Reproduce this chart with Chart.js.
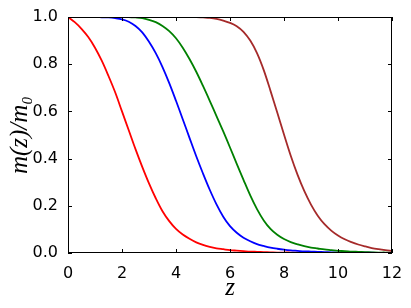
<!DOCTYPE html>
<html>
<head>
<meta charset="utf-8">
<script src="https://cdn.jsdelivr.net/npm/chart.js@4.4.1/dist/chart.umd.min.js"></script>
<style>
  html, body { margin: 0; padding: 0; background: #fff; }
</style>
</head>
<body>
<canvas id="chart" width="411" height="308"></canvas>
<script>
// z grid, values read every 0.25
const zValues = [0, 0.25, 0.5, 0.75, 1, 1.25, 1.5, 1.75, 2, 2.25, 2.5, 2.75, 3, 3.25, 3.5, 3.75, 4, 4.25, 4.5, 4.75, 5, 5.25, 5.5, 5.75, 6, 6.25, 6.5, 6.75, 7, 7.25, 7.5, 7.75, 8, 8.25, 8.5, 8.75, 9, 9.25, 9.5, 9.75, 10, 10.25, 10.5, 10.75, 11, 11.25, 11.5, 11.75, 12];

const redValues = [1, 0.978, 0.95, 0.915, 0.87, 0.815, 0.75, 0.68, 0.6, 0.52, 0.44, 0.365, 0.295, 0.232, 0.177, 0.135, 0.102, 0.078, 0.06, 0.045, 0.034, 0.026, 0.02, 0.016, 0.012, 0.01, 0.008, 0.006, 0.005, 0.004, 0.003, 0.002, 0.002, 0.002, 0.001, 0.001, 0.001, 0.001, 0, 0, 0, 0, 0, 0, 0, 0, 0, 0, 0];
const blueValues = [1, 1, 1, 1, 1, 0.999, 0.998, 0.995, 0.99, 0.98, 0.962, 0.935, 0.895, 0.847, 0.788, 0.72, 0.645, 0.567, 0.488, 0.41, 0.337, 0.268, 0.206, 0.154, 0.114, 0.086, 0.065, 0.05, 0.038, 0.03, 0.023, 0.018, 0.014, 0.011, 0.009, 0.007, 0.006, 0.005, 0.004, 0.003, 0.002, 0.002, 0.001, 0.001, 0.001, 0.001, 0, 0, 0];
const greenValues = [1, 1, 1, 1, 1, 1, 1, 1, 1, 1, 0.998, 0.995, 0.988, 0.978, 0.962, 0.94, 0.91, 0.87, 0.822, 0.768, 0.708, 0.645, 0.58, 0.515, 0.447, 0.378, 0.31, 0.244, 0.186, 0.138, 0.102, 0.077, 0.059, 0.046, 0.037, 0.029, 0.023, 0.019, 0.015, 0.012, 0.009, 0.008, 0.006, 0.005, 0.004, 0.003, 0.002, 0.002, 0.001];
const brownValues = [1, 1, 1, 1, 1, 1, 1, 1, 1, 1, 1, 1, 1, 1, 1, 1, 1, 1, 1, 1, 0.998, 0.996, 0.992, 0.985, 0.975, 0.961, 0.937, 0.9, 0.847, 0.775, 0.687, 0.595, 0.502, 0.412, 0.332, 0.263, 0.205, 0.158, 0.122, 0.095, 0.074, 0.058, 0.046, 0.036, 0.028, 0.021, 0.016, 0.012, 0.009];

const xTicks = [0, 2, 4, 6, 8, 10, 12];
const yTicks = [0, 0.2, 0.4, 0.6, 0.8, 1.0];

const series = [
  { values: redValues, color: "#ff0000" },
  { values: blueValues, color: "#0000ff" },
  { values: greenValues, color: "#008000" },
  { values: brownValues, color: "#a52a2a" },
];

// frame + inward ticks on all four sides, matplotlib style
const frameTicks = {
  id: "frameTicks",
  afterDatasetsDraw(chart) {
    const { ctx, chartArea: a, scales: { x, y } } = chart;
    const len = 4;
    ctx.save();
    ctx.strokeStyle = "#000";
    ctx.lineWidth = 1;
    ctx.strokeRect(a.left + 0.5, a.top + 0.5, a.right - a.left - 1, a.bottom - a.top - 1);
    ctx.beginPath();
    xTicks.forEach((t) => {
      const px = Math.round(x.getPixelForValue(t)) + 0.5;
      ctx.moveTo(px, a.bottom);
      ctx.lineTo(px, a.bottom - len);
      ctx.moveTo(px, a.top);
      ctx.lineTo(px, a.top + len);
    });
    yTicks.forEach((t) => {
      const py = Math.round(y.getPixelForValue(t)) + 0.5;
      ctx.moveTo(a.left, py);
      ctx.lineTo(a.left + len, py);
      ctx.moveTo(a.right, py);
      ctx.lineTo(a.right - len, py);
    });
    ctx.stroke();
    ctx.restore();
  },
};

const tickFont = { family: "DejaVu Sans", size: 16 };
const titleFont = { family: "Liberation Serif", style: "italic", size: 25 };

new Chart(document.getElementById("chart"), {
  type: "line",
  data: {
    labels: zValues,
    datasets: series.map((s, i) => ({
      data: zValues.map((z, j) => ({ x: z, y: s.values[j] })),
      borderColor: s.color,
      borderWidth: 1.8,
      pointRadius: 0,
      fill: false,
      tension: 0.35,
      order: series.length - i,
    })),
  },
  options: {
    responsive: false,
    animation: false,
    layout: { padding: { left: 0, top: 17, right: 19, bottom: 0 } },
    plugins: { legend: { display: false }, tooltip: { enabled: false } },
    scales: {
      x: {
        type: "linear",
        min: 0,
        max: 12,
        afterFit: (scale) => { scale.height = 55; },
        afterBuildTicks: (scale) => { scale.ticks = xTicks.map((v) => ({ value: v })); },
        ticks: { font: tickFont, color: "#000", padding: 3 },
        grid: { display: false },
        border: { display: false },
        title: { display: true, text: "z", font: titleFont, color: "#000", padding: { top: 0, bottom: 5 } },
      },
      y: {
        min: 0,
        max: 1,
        afterFit: (scale) => { scale.width = 68; },
        afterBuildTicks: (scale) => { scale.ticks = yTicks.map((v) => ({ value: v })); },
        ticks: { font: tickFont, color: "#000", padding: 2, callback: (v) => v.toFixed(1) },
        grid: { display: false },
        border: { display: false },
        title: { display: true, text: "m(z)/m₀", font: titleFont, color: "#000", padding: { top: 5, bottom: 0 } },
      },
    },
  },
  plugins: [frameTicks],
});
</script>
</body>
</html>
